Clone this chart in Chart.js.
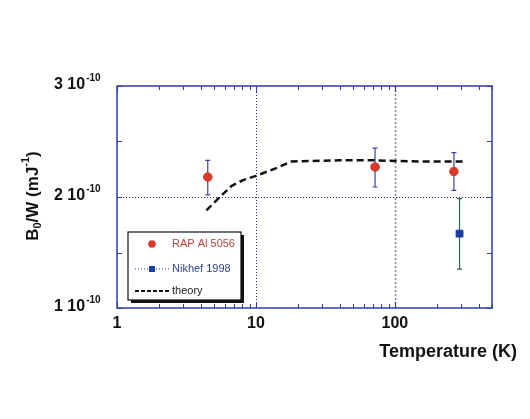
<!DOCTYPE html>
<html>
<head>
<meta charset="utf-8">
<script src="https://cdn.jsdelivr.net/npm/chart.js@4.4.0/dist/chart.umd.min.js"></script>
<style>
  html, body { margin: 0; padding: 0; background: #fff; }
  #contenedor { width: 530px; height: 419px; }
</style>
</head>
<body>
<div id="contenedor"><canvas id="grafico"></canvas></div>
<script>
// Datos (temperatura en K, B0/W en mJ^-1)
const rapTemp = [4.5, 72, 266];
const rapValor = [2.18e-10, 2.27e-10, 2.23e-10];
const rapBajo = [2.02e-10, 2.09e-10, 2.06e-10];
const rapAlto = [2.33e-10, 2.44e-10, 2.40e-10];

const nikhefTemp = [292];
const nikhefValor = [1.67e-10];
const nikhefBajo = [1.35e-10];
const nikhefAlto = [1.985e-10];

const teoriaTemp = [4.4, 5.5, 6.7, 8, 10, 14, 18, 40, 72, 150, 310];
const teoriaValor = [1.88e-10, 2.0e-10, 2.10e-10, 2.15e-10, 2.19e-10, 2.26e-10, 2.32e-10, 2.33e-10, 2.33e-10, 2.32e-10, 2.32e-10];

const xTicks = [1, 10, 100];
const xTickLabels = ["1", "10", "100"];
const yTicks = [1e-10, 2e-10, 3e-10];
const yTickLabels = ["1 10", "2 10", "3 10"];
const yMinorTicks = [1.5e-10, 2.5e-10];

const fuente = "'Liberation Sans', Arial, sans-serif";

function armarPuntos(xs, ys) {
    return xs.map((x, i) => ({ x: x, y: ys[i] }));
}

// Dibuja marcas, grilla, ejes con superindices, barras de error y leyenda
const pluginDecoracion = {
    id: 'decoracion',
    beforeDatasetsDraw(chart) {
        const ctx = chart.ctx;
        const a = chart.chartArea;
        const sx = chart.scales.x, sy = chart.scales.y;
        ctx.save();
        // grilla punteada
        ctx.lineWidth = 1;
        ctx.strokeStyle = '#2a2a6a';
        ctx.setLineDash([1, 2]);
        let px = Math.round(sx.getPixelForValue(10)) + 0.5;
        ctx.beginPath(); ctx.moveTo(px, a.top); ctx.lineTo(px, a.bottom); ctx.stroke();
        let py = Math.round(sy.getPixelForValue(2e-10)) + 0.5;
        ctx.beginPath(); ctx.moveTo(a.left, py); ctx.lineTo(a.right, py); ctx.stroke();
        ctx.strokeStyle = '#888';
        ctx.lineWidth = 1.5;
        ctx.setLineDash([2, 2]);
        px = Math.round(sx.getPixelForValue(100)) + 0.5;
        ctx.beginPath(); ctx.moveTo(px, a.top); ctx.lineTo(px, a.bottom); ctx.stroke();
        ctx.setLineDash([]);

        // marcas hacia adentro
        ctx.strokeStyle = '#2b3bb0';
        ctx.lineWidth = 1;
        for (let d = 1; d <= 100; d *= 10) {
            for (let k = 1; k <= 9; k++) {
                const v = d * k;
                if (v > 500) break;
                const xx = Math.round(sx.getPixelForValue(v)) + 0.5;
                const largo = k === 1 ? 6 : 4;
                ctx.beginPath();
                ctx.moveTo(xx, a.bottom); ctx.lineTo(xx, a.bottom - largo);
                ctx.moveTo(xx, a.top); ctx.lineTo(xx, a.top + largo);
                ctx.stroke();
            }
        }
        yTicks.concat(yMinorTicks).forEach(v => {
            const yy = Math.round(sy.getPixelForValue(v)) + 0.5;
            ctx.beginPath();
            ctx.moveTo(a.left, yy); ctx.lineTo(a.left + 5, yy);
            ctx.moveTo(a.right, yy); ctx.lineTo(a.right - 5, yy);
            ctx.stroke();
        });

        // barras de error
        function barras(xs, bajos, altos, color) {
            ctx.strokeStyle = color;
            ctx.lineWidth = 1.2;
            xs.forEach((x, i) => {
                const xx = sx.getPixelForValue(x);
                const y1 = sy.getPixelForValue(bajos[i]);
                const y2 = sy.getPixelForValue(altos[i]);
                ctx.beginPath();
                ctx.moveTo(xx, y1); ctx.lineTo(xx, y2);
                ctx.moveTo(xx - 2.5, y1); ctx.lineTo(xx + 2.5, y1);
                ctx.moveTo(xx - 2.5, y2); ctx.lineTo(xx + 2.5, y2);
                ctx.stroke();
            });
        }
        barras(rapTemp, rapBajo, rapAlto, '#4040a8');
        barras(nikhefTemp, nikhefBajo, nikhefAlto, '#2a6a55');
        ctx.restore();
    },
    afterDraw(chart) {
        const ctx = chart.ctx;
        const a = chart.chartArea;
        const sx = chart.scales.x, sy = chart.scales.y;
        ctx.save();
        // borde del area
        ctx.strokeStyle = '#2b3bb0';
        ctx.lineWidth = 1.5;
        ctx.strokeRect(a.left, a.top, a.right - a.left, a.bottom - a.top);

        ctx.fillStyle = '#111';
        // etiquetas eje x
        ctx.font = 'bold 16px ' + fuente;
        ctx.textAlign = 'center';
        ctx.textBaseline = 'middle';
        xTicks.forEach((v, i) => {
            ctx.fillText(xTickLabels[i], sx.getPixelForValue(v), 324);
        });
        ctx.font = 'bold 18px ' + fuente;
        ctx.textAlign = 'right';
        ctx.fillText('Temperature (K)', 517, 352);

        // etiquetas eje y con superindice
        ctx.textAlign = 'left';
        yTicks.forEach((v, i) => {
            const yy = sy.getPixelForValue(v) - 1;
            ctx.font = 'bold 16px ' + fuente;
            ctx.fillText(yTickLabels[i], 54, yy);
            const w = ctx.measureText(yTickLabels[i]).width;
            ctx.font = 'bold 10px ' + fuente;
            ctx.fillText('-10', 54 + w + 1, yy - 7);
        });

        // titulo eje y: B0/W (mJ-1)
        ctx.translate(33, 196);
        ctx.rotate(-Math.PI / 2);
        const partes = [
            { t: 'B', f: 17, dy: 0 },
            { t: '0', f: 11, dy: 5 },
            { t: '/W (mJ', f: 17, dy: 0 },
            { t: '-1', f: 11, dy: -7 },
            { t: ')', f: 17, dy: 0 }
        ];
        let total = 0;
        partes.forEach(p => { ctx.font = 'bold ' + p.f + 'px ' + fuente; p.w = ctx.measureText(p.t).width; total += p.w; });
        let xx = -total / 2;
        partes.forEach(p => {
            ctx.font = 'bold ' + p.f + 'px ' + fuente;
            ctx.fillText(p.t, xx, p.dy);
            xx += p.w;
        });
        ctx.setTransform(1, 0, 0, 1, 0, 0);

        // leyenda con sombra
        const lx = 128, ly = 232, lw = 113, lh = 68;
        ctx.fillStyle = '#111';
        ctx.fillRect(lx + 3, ly + 3, lw, lh);
        ctx.fillStyle = '#fff';
        ctx.fillRect(lx, ly, lw, lh);
        ctx.strokeStyle = '#111';
        ctx.lineWidth = 1.2;
        ctx.strokeRect(lx, ly, lw, lh);

        ctx.font = '11px ' + fuente;
        ctx.textAlign = 'left';
        ctx.textBaseline = 'middle';
        // fila 1
        ctx.fillStyle = '#d8392b';
        ctx.beginPath(); ctx.arc(152, 244, 3.8, 0, Math.PI * 2); ctx.fill();
        ctx.fillStyle = '#b4463c';
        ctx.fillText('RAP Al 5056', 172, 244);
        // fila 2
        ctx.strokeStyle = '#2a3aa0';
        ctx.lineWidth = 1;
        ctx.setLineDash([1, 2]);
        ctx.beginPath(); ctx.moveTo(135, 269); ctx.lineTo(170, 269); ctx.stroke();
        ctx.setLineDash([]);
        ctx.fillStyle = '#1a3aa8';
        ctx.fillRect(149, 266, 6, 6);
        ctx.fillStyle = '#334488';
        ctx.fillText('Nikhef 1998', 172, 269);
        // fila 3
        ctx.strokeStyle = '#111';
        ctx.lineWidth = 2;
        ctx.setLineDash([4, 2]);
        ctx.beginPath(); ctx.moveTo(135, 291); ctx.lineTo(170, 291); ctx.stroke();
        ctx.setLineDash([]);
        ctx.fillStyle = '#222';
        ctx.fillText('theory', 172, 291);
        ctx.restore();
    }
};

const ctx = document.getElementById('grafico');
new Chart(ctx, {
    type: 'scatter',
    data: {
        datasets: [
            {
                label: 'theory',
                data: armarPuntos(teoriaTemp, teoriaValor),
                showLine: true,
                borderColor: '#111',
                borderWidth: 2.5,
                borderDash: [7, 4],
                pointRadius: 0,
                order: 3
            },
            {
                label: 'RAP Al 5056',
                data: armarPuntos(rapTemp, rapValor),
                pointStyle: 'circle',
                pointRadius: 4.3,
                backgroundColor: '#d8392b',
                borderColor: '#d8392b',
                order: 1
            },
            {
                label: 'Nikhef 1998',
                data: armarPuntos(nikhefTemp, nikhefValor),
                pointStyle: 'rect',
                pointRadius: 4.8,
                backgroundColor: '#1a3aa8',
                borderColor: '#1a3aa8',
                order: 2
            }
        ]
    },
    options: {
        responsive: true,
        maintainAspectRatio: false,
        animation: false,
        layout: { padding: { left: 117, top: 86, right: 38, bottom: 111 } },
        scales: {
            x: { type: 'logarithmic', min: 1, max: 500, display: false },
            y: { type: 'linear', min: 1e-10, max: 3e-10, display: false }
        },
        plugins: {
            legend: { display: false },
            tooltip: { enabled: false }
        }
    },
    plugins: [pluginDecoracion]
});
</script>
</body>
</html>
